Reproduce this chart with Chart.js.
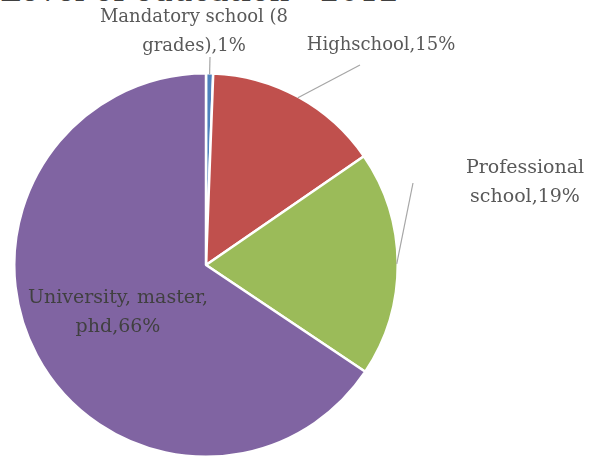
<!DOCTYPE html>
<html>
<head>
<meta charset="utf-8">
<script src="https://cdn.jsdelivr.net/npm/chart.js@4.4.0/dist/chart.umd.min.js"></script>
<style>
  html, body { margin: 0; padding: 0; background: #fff; overflow: hidden; }
  #wrap { position: relative; width: 591px; height: 459px; overflow: hidden; }
  #title { position: absolute; left: 0; top: -28px; font-family: "DejaVu Serif", serif; font-size: 31px; color: #404040; white-space: nowrap; }
  canvas { position: absolute; left: 0; top: 0; }
</style>
</head>
<body>
<div id="wrap">
  <div id="title">Level of education - 2012</div>
  <canvas id="c" width="591" height="459"></canvas>
</div>
<script>
const categories = ["Mandatory school (8 grades)", "Highschool", "Professional school", "University, master, phd"];
const values = [0.6, 14.8, 19.0, 65.6];
const colors = ["#4F81BD", "#C0504D", "#9BBB59", "#8064A2"];
// label text lines (category wrapped + rounded percentage)
const labelLines = [
  ["Mandatory school (8", "grades)," + Math.round(values[0]) + "%"],
  ["Highschool," + Math.round(values[1]) + "%"],
  ["Professional", "school," + Math.round(values[2]) + "%"],
  ["University, master,", "phd," + Math.round(values[3]) + "%"]
];

// layout: label centre positions and leader line end points (null = inside, no line)
const labelPos = [[194, 17], [381, 45], [525, 168], [118, 298]];
const leaderEnd = [[210, 57], [360, 65], [413, 183], null];
const labelColor = ["#595959", "#595959", "#595959", "#404040"];

const labelPlugin = {
  id: 'pieLabels',
  afterDatasetsDraw(chart) {
    const ctx = chart.ctx;
    const meta = chart.getDatasetMeta(0);
    ctx.save();
    meta.data.forEach((arc, i) => {
      const mid = (arc.startAngle + arc.endAngle) / 2;
      if (leaderEnd[i]) {
        const sx = arc.x + Math.cos(mid) * (arc.outerRadius - 1);
        const sy = arc.y + Math.sin(mid) * (arc.outerRadius - 1);
        ctx.strokeStyle = "#A6A6A6";
        ctx.lineWidth = 1.2;
        ctx.beginPath();
        ctx.moveTo(sx, sy);
        ctx.lineTo(leaderEnd[i][0], leaderEnd[i][1]);
        ctx.stroke();
      }
      ctx.fillStyle = labelColor[i];
      ctx.font = (i >= 2 ? '19px' : '18px') + ' "DejaVu Serif", serif';
      ctx.textAlign = 'center';
      ctx.textBaseline = 'middle';
      const lines = labelLines[i];
      lines.forEach((t, k) => {
        ctx.fillText(t, labelPos[i][0], labelPos[i][1] + k * 29);
      });
    });
    ctx.restore();
  }
};

new Chart(document.getElementById('c'), {
  type: 'pie',
  data: {
    labels: categories,
    datasets: [{
      data: values,
      backgroundColor: colors,
      borderColor: '#ffffff',
      borderWidth: 2.5
    }]
  },
  options: {
    responsive: false,
    animation: false,
    layout: { padding: { left: 13, right: 192, top: 72, bottom: 1 } },
    plugins: {
      legend: { display: false },
      tooltip: { enabled: false },
      title: { display: false }
    }
  },
  plugins: [labelPlugin]
});
</script>
</body>
</html>
